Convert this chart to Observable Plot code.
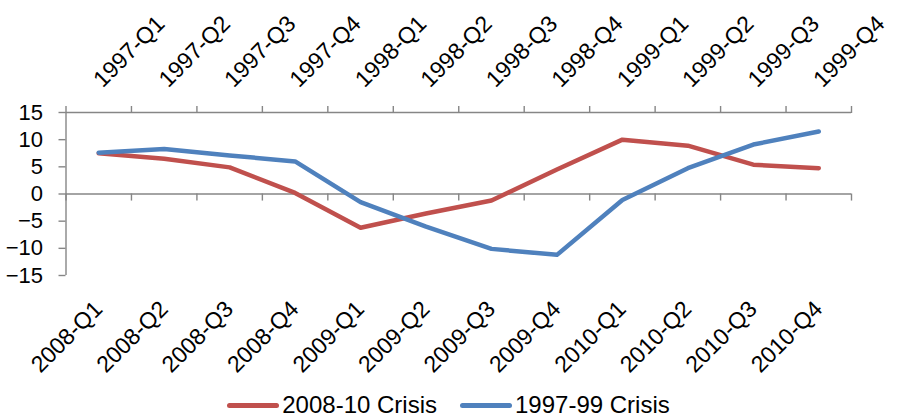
<!DOCTYPE html>
<html>
<head>
<meta charset="utf-8">
<script src="https://cdn.jsdelivr.net/npm/d3@7"></script>
<script src="https://cdn.jsdelivr.net/npm/@observablehq/plot@0.6"></script>
<style>
  html, body { margin: 0; padding: 0; background: #fff; overflow: hidden; }
  #chart { width: 897px; font-family: "Liberation Sans", Arial, sans-serif; }
  .legend { display: flex; justify-content: center; align-items: center; height: 24px; line-height: 24px; font-size: 24px; color: #000; }
  .legend .item { display: flex; align-items: center; }
  .legend .sw { display: inline-block; width: 52px; height: 5px; border-radius: 3px; margin-right: 3px; }
  .legend .item + .item { margin-left: 23px; }
</style>
</head>
<body>
<div id="chart"></div>
<script>
const quarters2008 = ["2008-Q1","2008-Q2","2008-Q3","2008-Q4","2009-Q1","2009-Q2","2009-Q3","2009-Q4","2010-Q1","2010-Q2","2010-Q3","2010-Q4"];
const quarters1997 = ["1997-Q1","1997-Q2","1997-Q3","1997-Q4","1998-Q1","1998-Q2","1998-Q3","1998-Q4","1999-Q1","1999-Q2","1999-Q3","1999-Q4"];
const crisis2008 = [7.5, 6.5, 4.9, 0.2, -6.2, -3.6, -1.2, 4.5, 10.0, 8.9, 5.4, 4.75];
const crisis1997 = [7.6, 8.3, 7.1, 6.0, -1.5, -6.0, -10.1, -11.2, -1.1, 4.75, 9.1, 11.5];
const yTicks = [-15, -10, -5, 0, 5, 10, 15];
const seriesNames = ["2008-10 Crisis", "1997-99 Crisis"];
const seriesColors = ["#C0504D", "#4F81BD"];

const rows = quarters2008.map((q, i) => ({i, pos: i + 0.5, q2008: q, q1997: quarters1997[i], v2008: crisis2008[i], v1997: crisis1997[i]}));
const boundaries = d3.range(quarters2008.length + 1);
const gray = "#868686";

const plot = Plot.plot({
  width: 897,
  height: 393,
  marginLeft: 65.5,
  marginRight: 46,
  marginTop: 112,
  marginBottom: 118,
  style: {fontFamily: "'Liberation Sans', Arial, sans-serif", background: "#fff", color: "#000"},
  x: {type: "linear", domain: [0, quarters2008.length], axis: null},
  y: {domain: [-15, 15], axis: null},
  marks: [
    // y axis line and ticks
    Plot.ruleX([0], {y1: -15, y2: 15, stroke: gray, strokeWidth: 1.4}),
    Plot.axisY({ticks: yTicks, tickSize: 7, tickFormat: () => "", stroke: gray, strokeWidth: 1.4, label: null}),
    Plot.axisY({ticks: yTicks, tickSize: 0, tickPadding: 23, fontSize: 22, fill: "#000", label: null}),
    // top (secondary) category axis
    Plot.ruleY([15], {x1: 0, x2: quarters2008.length, stroke: gray, strokeWidth: 1.4}),
    Plot.axisX({anchor: "top", ticks: boundaries, tickSize: 7, tickFormat: () => "", stroke: gray, strokeWidth: 1.4, label: null}),
    Plot.text(rows, {x: "pos", frameAnchor: "top", dx: 4, dy: -24, rotate: -45, textAnchor: "start", lineAnchor: "bottom", text: "q1997", fontSize: 23, fill: "#000"}),
    // primary category axis at zero
    Plot.ruleY([0], {x1: 0, x2: quarters2008.length, stroke: gray, strokeWidth: 1.4}),
    Plot.ruleX(boundaries, {y1: 0, y2: -1.3, stroke: gray, strokeWidth: 1.4}),
    Plot.text(rows, {x: "pos", frameAnchor: "bottom", dx: 5, dy: 35, rotate: -45, textAnchor: "end", lineAnchor: "bottom", text: "q2008", fontSize: 23, fill: "#000"}),
    // series
    Plot.line(rows, {x: "pos", y: "v2008", stroke: seriesColors[0], strokeWidth: 4.5, strokeLinejoin: "round", strokeLinecap: "round"}),
    Plot.line(rows, {x: "pos", y: "v1997", stroke: seriesColors[1], strokeWidth: 4.5, strokeLinejoin: "round", strokeLinecap: "round"})
  ]
});

const chart = document.getElementById("chart");
chart.appendChild(plot);
const legend = document.createElement("div");
legend.className = "legend";
seriesNames.forEach((name, k) => {
  const item = document.createElement("span");
  item.className = "item";
  const sw = document.createElement("span");
  sw.className = "sw";
  sw.style.background = seriesColors[k];
  const label = document.createElement("span");
  label.textContent = name;
  item.appendChild(sw);
  item.appendChild(label);
  legend.appendChild(item);
});
chart.appendChild(legend);
</script>
</body>
</html>
